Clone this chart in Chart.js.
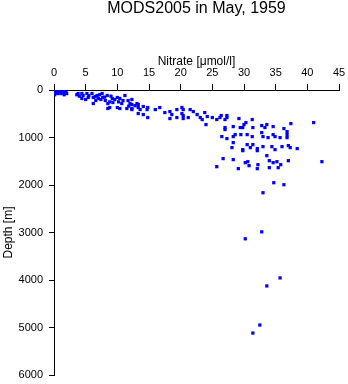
<!DOCTYPE html>
<html>
<head>
<meta charset="utf-8">
<script src="https://cdn.jsdelivr.net/npm/chart.js@4/dist/chart.umd.min.js"></script>
<style>
html,body{margin:0;padding:0;background:#fff;}
#wrap{width:348px;height:384px;}
</style>
</head>
<body>
<div id="wrap"><canvas id="c" width="348" height="384"></canvas></div>
<script>
const chartTitle = "MODS2005 in May, 1959";
const xAxisTitle = "Nitrate [\u03bcmol/l]";
const yAxisTitle = "Depth [m]";
const xTicks = [0, 5, 10, 15, 20, 25, 30, 35, 40, 45];
const yTicks = [0, 1000, 2000, 3000, 4000, 5000, 6000];

// Nitrate values (µmol/l)
const nitrate = [
  0.2,0.4,0.6,0.8,1.0,1.2,1.5,0.3,0.5,0.9,1.3,1.7,0.2,0.6,1.1,0.4,0.7,1.9,2.0,1.4,0.1,1.6,
  3.8,4.4,4.6,5.2,4.4,5.4,6.0,6.2,6.8,7.0,7.6,7.7,8.1,8.4,6.2,8.5,9.2,9.3,10.0,10.4,10.7,10.9,11.2,11.7,12.0,10.0,10.4,11.5,12.3,13.1,13.3,8.8,8.5,
  5.5,6.5,7.2,8.0,9.0,9.6,7.4,6.6,5.0,8.8,10.2,3.6,4.0,11.8,12.8,
  12.3,12.3,12.3,13.3,13.6,14.1,14.7,14.8,16.0,16.7,13.3,14.1,14.8,17.5,18.3,18.6,18.3,19.4,20.4,20.4,20.4,21.5,22.0,22.6,23.1,23.4,23.8,24.2,25.0,25.7,26.2,27.3,24.0,27.0,19.4,
  20.2,20.2,21.2,
  26.4,27.3,27.0,29.2,31.3,30.0,30.3,28.3,29.4,29.8,31.4,32.8,33.6,33.3,34.6,36.3,36.8,37.4,41.0,27.0,28.6,28.3,29.5,30.5,31.3,32.8,33.0,33.8,34.6,34.9,35.7,36.8,36.8,26.5,27.3,28.3,30.5,31.4,31.0,32.1,33.0,34.4,34.9,36.0,37.0,37.3,38.4,29.8,28.1,
  26.7,28.3,29.1,29.8,32.1,33.6,34.0,34.6,35.2,35.8,37.0,30.2,30.6,30.8,32.2,32.1,34.0,35.4,42.3,34.7,36.3,33.0,25.7,
  32.8,30.2,35.7,33.6,32.5,31.4
];
// Depth values (m)
const depth = [
  0,5,10,0,20,10,30,30,50,40,50,60,60,75,75,20,25,40,75,0,100,100,
  74,74,116,74,179,158,74,158,116,179,74,158,222,116,285,285,179,264,158,179,285,222,116,222,285,369,390,390,390,285,369,369,390,
  120,140,100,150,130,200,200,220,200,250,250,100,130,340,330,
  200,306,412,306,412,348,412,369,412,369,496,517,580,475,454,517,601,412,412,538,601,412,454,517,580,622,475,559,580,622,580,580,728,791,580,
  369,496,580,
  538,538,622,601,622,728,686,770,791,791,791,749,728,791,770,812,876,707,686,833,939,981,939,939,981,897,981,1002,939,981,1002,939,1002,981,1023,1108,1150,1150,1213,1234,1192,1192,1255,1192,1171,1213,1234,1255,1213,
  1445,1466,1656,1277,1277,1382,1488,1530,1509,1572,1488,1530,1509,1593,1572,1656,1635,1635,1509,1952,1994,2163,1614,
  2986,3133,3956,4125,4948,5117
];

const points = nitrate.map((v, i) => ({x: v, y: depth[i]}));
const FONT = "'Liberation Sans', Arial, Helvetica, sans-serif";

const titlePlugin = {
  id: 'mainTitle',
  afterDraw(chart) {
    const ctx = chart.ctx;
    const a = chart.chartArea;
    ctx.save();
    ctx.fillStyle = '#000';
    ctx.font = '16px ' + FONT;
    ctx.textAlign = 'center';
    ctx.textBaseline = 'middle';
    ctx.fillText(chartTitle, (a.left + a.right) / 2, 9);
    ctx.restore();
  }
};

new Chart(document.getElementById('c'), {
  type: 'scatter',
  data: {
    datasets: [{
      data: points,
      backgroundColor: '#0000ff',
      borderColor: '#0000ff',
      borderWidth: 0,
      pointStyle: 'rect',
      pointRadius: 2.3,
      pointHoverRadius: 2.3
    }]
  },
  options: {
    responsive: false,
    animation: false,
    devicePixelRatio: 1,
    layout: { padding: { left: 0, right: 9, top: 0, bottom: 9 } },
    plugins: { legend: { display: false }, tooltip: { enabled: false }, title: { display: false } },
    scales: {
      x: {
        type: 'linear',
        position: 'top',
        min: 0, max: 45,
        afterBuildTicks(scale) { scale.ticks = xTicks.map(v => ({value: v})); },
        afterFit(scale) { scale.height = 90; scale.paddingLeft = 0; scale.paddingRight = 0; },
        ticks: { color: '#000', font: { family: FONT, size: 11 }, padding: 4, maxRotation: 0, autoSkip: false, callback: v => String(v) },
        grid: { display: true, drawOnChartArea: false, drawTicks: true, tickLength: 6, color: '#000', lineWidth: 1 },
        border: { display: true, color: '#000', width: 1 },
        title: { display: true, text: xAxisTitle, color: '#000', font: { family: FONT, size: 12 }, padding: { top: 54, bottom: 0 } }
      },
      y: {
        type: 'linear',
        position: 'left',
        reverse: true,
        min: 0, max: 6000,
        afterBuildTicks(scale) { scale.ticks = yTicks.map(v => ({value: v})); },
        afterFit(scale) { scale.width = 54; scale.paddingTop = 0; scale.paddingBottom = 0; },
        ticks: { color: '#000', font: { family: FONT, size: 11 }, padding: 6, autoSkip: false, callback: v => String(v) },
        grid: { display: true, drawOnChartArea: false, drawTicks: true, tickLength: 5, color: '#000', lineWidth: 1 },
        border: { display: true, color: '#000', width: 1 },
        title: { display: true, text: yAxisTitle, color: '#000', font: { family: FONT, size: 12 }, padding: { top: 1, bottom: 0 } }
      }
    }
  },
  plugins: [titlePlugin]
});
</script>
</body>
</html>
